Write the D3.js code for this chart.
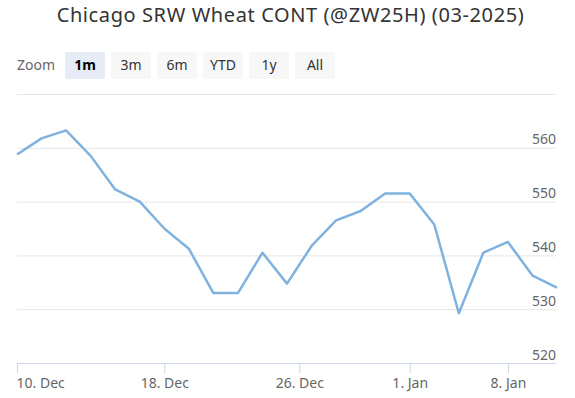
<!DOCTYPE html>
<html>
<head>
<meta charset="utf-8">
<script src="https://cdn.jsdelivr.net/npm/d3@7"></script>
<style>
  body { margin: 0; background: #fff; }
  svg { display: block; font-family: "Noto Sans", "Open Sans", sans-serif; }
</style>
</head>
<body>
<div id="chart"></div>
<script>
// trading-day series (ordinal x axis, one slot per session)
const values = [558.75, 561.75, 563.25, 558.5, 552.25, 550, 545, 541.25, 533, 533,
                540.5, 534.75, 541.75, 546.5, 548.25, 551.5, 551.5, 545.75, 529.25,
                540.5, 542.5, 536.25, 534];
const tickLabels = ['10. Dec', '18. Dec', '26. Dec', '1. Jan', '8. Jan'];
const tickSlots = [0, 6, 11.5, 16, 20];
const yTicks = [520, 530, 540, 550, 560, 570];
const zoomButtons = ['1m', '3m', '6m', 'YTD', '1y', 'All'];

const width = 575, height = 398;
const margin = {top: 94, right: 19, bottom: 35, left: 17};
const plotW = width - margin.left - margin.right;
const plotH = height - margin.top - margin.bottom;

const svg = d3.select('#chart').append('svg')
    .attr('width', width)
    .attr('height', height);

svg.append('text')
    .attr('x', width / 2 + 3)
    .attr('y', 22)
    .attr('text-anchor', 'middle')
    .style('font-size', '20px')
    .style('letter-spacing', '0.6px')
    .style('fill', '#333')
    .text('Chicago SRW Wheat CONT (@ZW25H) (03-2025)');

// range selector
const zoomRow = svg.append('g').attr('transform', 'translate(0, 52)');
zoomRow.append('text')
    .attr('x', 17)
    .attr('y', 18)
    .style('font-size', '14px')
    .style('fill', '#666')
    .text('Zoom');

const btn = zoomRow.selectAll('.btn').data(zoomButtons).enter()
    .append('g')
    .attr('class', 'btn')
    .attr('transform', (d, i) => `translate(${65 + i * 46}, 0)`);
btn.append('rect')
    .attr('width', 40)
    .attr('height', 27)
    .attr('rx', 2)
    .style('fill', (d, i) => i === 0 ? '#e6ebf5' : '#f7f7f7');
btn.append('text')
    .attr('x', 20)
    .attr('y', 18)
    .attr('text-anchor', 'middle')
    .style('font-size', '14px')
    .style('font-weight', (d, i) => i === 0 ? 'bold' : 'normal')
    .style('fill', (d, i) => i === 0 ? '#000' : '#333')
    .text(d => d);

const g = svg.append('g')
    .attr('transform', `translate(${margin.left}, ${margin.top})`);

let x = d3.scaleLinear()
    .domain([0, values.length - 1])
    .range([0, plotW + 1]);

let y = d3.scaleLinear()
    .domain([520, 570])
    .range([plotH, 0]);

// grid + labels inside the plot on the right
let yAxis = g.append('g')
    .call(d3.axisRight(y).tickValues(yTicks).tickSize(plotW).tickFormat(d => d === 570 ? '' : d));
yAxis.select('.domain').remove();
yAxis.selectAll('.tick line').style('stroke', '#e6e6e6');
yAxis.selectAll('.tick text')
    .attr('x', plotW)
    .attr('dy', '-4')
    .attr('text-anchor', 'end')
    .style('font-size', '14px')
    .style('fill', '#666')
    .style('font-family', '"Noto Sans", sans-serif');

let xAxis = g.append('g')
    .attr('transform', `translate(0, ${plotH})`)
    .call(d3.axisBottom(x).tickValues(tickSlots).tickSize(10).tickSizeOuter(0)
        .tickFormat((d, i) => tickLabels[i]));
xAxis.select('.domain').style('stroke', '#ccd6eb').attr('d', `M0.5,0.5H${plotW}`);
xAxis.selectAll('.tick line').style('stroke', '#ccd6eb');
xAxis.selectAll('.tick text')
    .attr('y', 15)
    .style('font-size', '14px')
    .style('fill', '#666')
    .style('font-family', '"Noto Sans", sans-serif')
    .attr('text-anchor', (d, i) => i === 0 ? 'start' : 'middle')
    .attr('x', (d, i) => i === 0 ? -1 : 0);

let line = d3.line()
    .x((d, i) => x(i))
    .y(d => y(d));

g.append('path')
    .datum(values)
    .attr('d', line)
    .style('fill', 'none')
    .style('stroke', '#7fb2de')
    .style('stroke-width', 2.5)
    .style('stroke-linejoin', 'round');
</script>
</body>
</html>
